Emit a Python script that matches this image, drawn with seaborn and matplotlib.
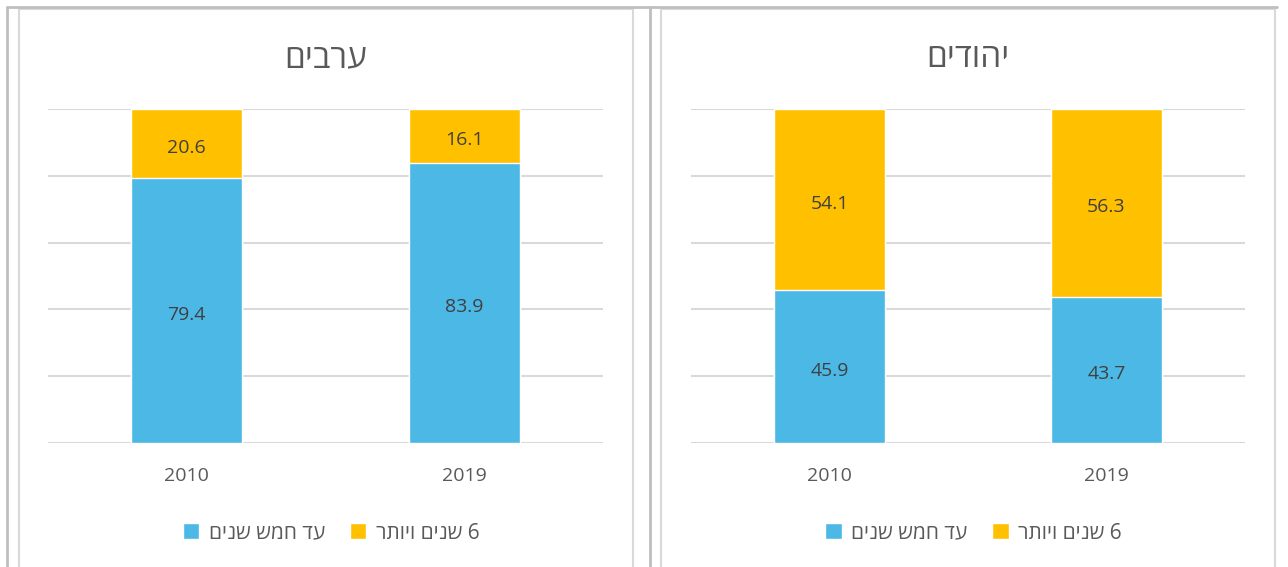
import matplotlib
matplotlib.use("Agg")
import matplotlib.pyplot as plt
import seaborn as sns
import pandas as pd
from matplotlib.patches import Rectangle
from matplotlib.lines import Line2D
from matplotlib.transforms import offset_copy

sns.set_theme(style="white")
plt.rcParams['font.family'] = ['Open Sans', 'DejaVu Sans']

def vis(s):
    # matplotlib has no bidi support: reverse Hebrew logical order for display
    return s[::-1]

years = ["2010", "2019"]
titles = ["ערבים", "יהודים"]
series_names = ["עד חמש שנים", "6 שנים ויותר"]
arabs_upto5 = [79.4, 83.9]
arabs_6plus = [20.6, 16.1]
jews_upto5 = [45.9, 43.7]
jews_6plus = [54.1, 56.3]

BLUE = "#4BB8E6"
ORANGE = "#FFC000"
TXT = "#595959"
LBL = "#404040"
W, H = 1288, 567

fig = plt.figure(figsize=(W / 100, H / 100), dpi=100)
fig.patch.set_facecolor("white")

def px_rect(x0, y0, x1, y1, color, lw):
    fig.add_artist(Rectangle((x0 / W, 1 - y1 / H), (x1 - x0) / W, (y1 - y0) / H,
                             transform=fig.transFigure, fill=False,
                             edgecolor=color, linewidth=lw))

def px_line(xs, ys, color, lw):
    fig.add_artist(Line2D([x / W for x in xs], [1 - y / H for y in ys],
                          transform=fig.transFigure, color=color, linewidth=lw))

# frames
px_line([7, 1277], [7, 7], "#bfbfbf", 2)
px_line([7, 7], [7, 580], "#bfbfbf", 2)
px_line([650, 650], [7, 580], "#bfbfbf", 2)
px_rect(19, 8.5, 633, 600, "#d9d9d9", 1.5)
px_rect(661, 8.5, 1275, 600, "#d9d9d9", 1.5)

panels = [
    (titles[0], arabs_upto5, arabs_6plus, 48, 603),
    (titles[1], jews_upto5, jews_6plus, 691, 1245),
]

for title, low, high, x0, x1 in panels:
    ax = fig.add_axes([x0 / W, 1 - 443 / H, (x1 - x0) / W, (443 - 109) / H])
    totals = [a + b for a, b in zip(low, high)]
    df = pd.DataFrame({"year": years, "low": low, "high": high, "total": totals})
    sns.barplot(data=df, x="year", y="total", color=ORANGE, saturation=1,
                width=0.4, ax=ax, zorder=3)
    sns.barplot(data=df, x="year", y="low", color=BLUE, saturation=1,
                width=0.4, ax=ax, zorder=3)
    tr = offset_copy(ax.transData, fig=fig, x=0, y=-3, units="points")
    for i, (a, b) in enumerate(zip(low, high)):
        ax.text(i, a / 2, f"{a:.1f}", ha="center", va="center", fontsize=14,
                color=LBL, zorder=4, transform=tr)
        ax.text(i, a + b / 2, f"{b:.1f}", ha="center", va="center", fontsize=14,
                color=LBL, zorder=4, transform=tr)
    ax.set_xlim(-0.5, 1.5)
    ax.set_ylim(0, 100)
    ax.set_yticks(range(0, 101, 20))
    ax.set_yticklabels([])
    ax.grid(axis="y", color="#d9d9d9", linewidth=1.5, zorder=0)
    ax.set_axisbelow(True)
    for s in ax.spines.values():
        s.set_visible(False)
    ax.set_xlabel("")
    ax.set_ylabel("")
    ax.tick_params(axis="x", length=0, pad=17, labelsize=14, labelcolor=TXT)
    ax.tick_params(axis="y", length=0)
    ax.set_title(vis(title), fontsize=24, color=TXT, pad=30)
    handles = [Rectangle((0, 0), 1, 1, facecolor=BLUE),
               Rectangle((0, 0), 1, 1, facecolor=ORANGE)]
    ax.legend(handles, [vis(s) for s in series_names], ncol=2, frameon=False,
              loc="center", bbox_to_anchor=(0.51, -0.27), fontsize=15,
              labelcolor=TXT, handlelength=0.8, handleheight=0.8,
              handletextpad=0.45, columnspacing=1.2)

fig.savefig("out.png", dpi=100, facecolor="white")
